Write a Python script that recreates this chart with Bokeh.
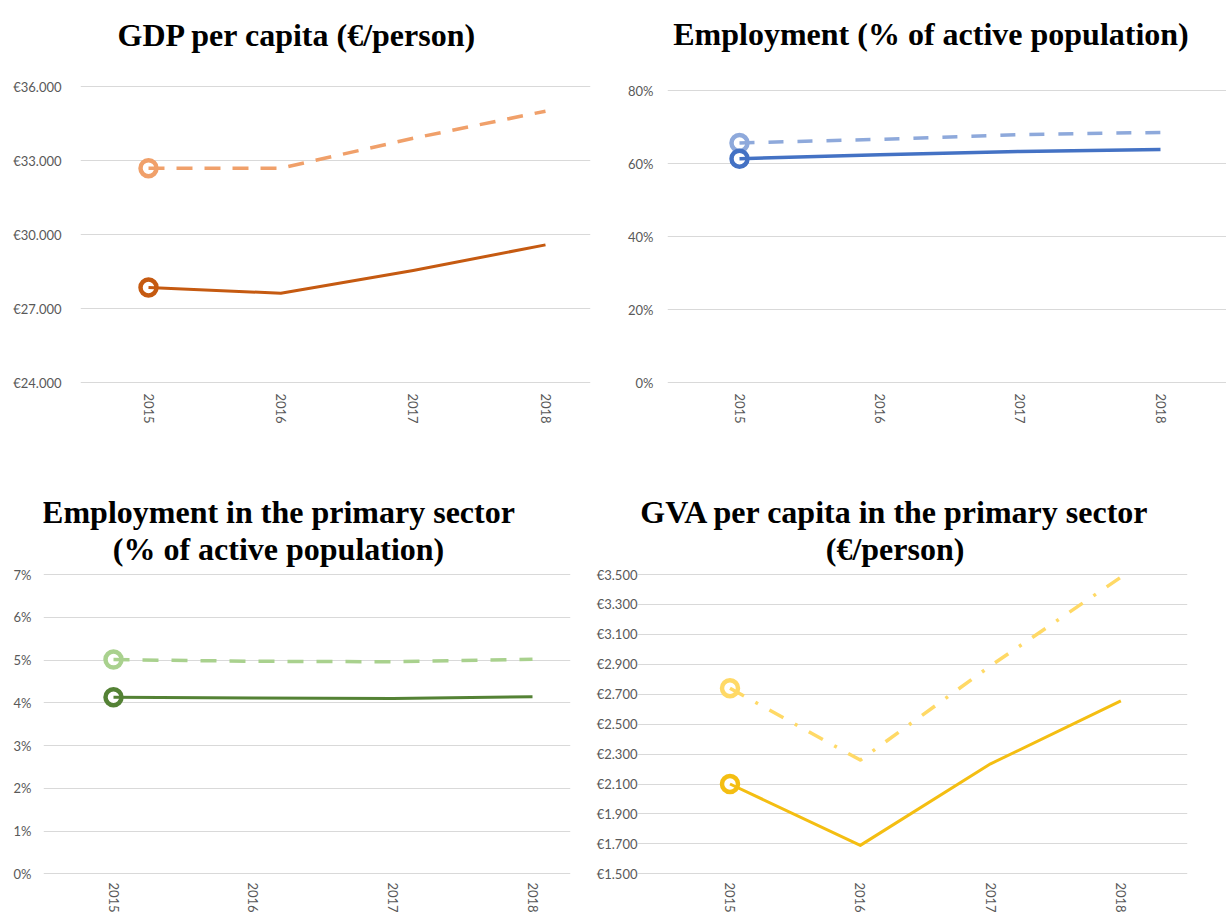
from bokeh.plotting import figure
from bokeh.models import Label, FixedTicker, Range1d
from bokeh.layouts import column, row
from bokeh.embed import file_html
from bokeh.resources import INLINE

# ---------------- data ----------------
years = [2015, 2016, 2017, 2018]
year_labels = ["2015", "2016", "2017", "2018"]

gdp_solid = [27850, 27620, 28540, 29580]
gdp_dashed = [32690, 32690, 33900, 35000]
gdp_ticks = [24000, 27000, 30000, 33000, 36000]
gdp_tick_labels = ["€24.000", "€27.000", "€30.000", "€33.000", "€36.000"]

emp_solid = [61.4, 62.5, 63.4, 63.9]
emp_dashed = [65.7, 66.7, 68.0, 68.6]
emp_ticks = [0, 20, 40, 60, 80]
emp_tick_labels = ["0%", "20%", "40%", "60%", "80%"]

prim_solid = [4.13, 4.11, 4.10, 4.14]
prim_dashed = [5.01, 4.97, 4.96, 5.02]
prim_ticks = [0, 1, 2, 3, 4, 5, 6, 7]
prim_tick_labels = ["0%", "1%", "2%", "3%", "4%", "5%", "6%", "7%"]

gva_solid = [2100, 1690, 2235, 2655]
gva_dashed = [2740, 2260, 2890, 3482]
gva_ticks = [1500, 1700, 1900, 2100, 2300, 2500, 2700, 2900, 3100, 3300, 3500]
gva_tick_labels = ["€1.500", "€1.700", "€1.900", "€2.100", "€2.300", "€2.500",
                   "€2.700", "€2.900", "€3.100", "€3.300", "€3.500"]

TITLE_FONT = "Liberation Serif"
TICK_FONT = "Lato"


def lin(v0, p0, v1, p1):
    """Linear pixel -> value map through two (value, pixel) anchors."""
    k = (v1 - v0) / (p1 - p0)
    return lambda px: v0 + (px - p0) * k


def panel(width, height, left0, top0, fl, fr, fb, xmap, ymap,
          yticks, ylabels, ystand, xstand):
    # frame spans from the top of the figure down to fb (titles live inside it)
    p = figure(width=width, height=height, output_backend="svg",
               toolbar_location=None,
               x_range=Range1d(xmap(fl), xmap(fr)),
               y_range=Range1d(ymap(fb), ymap(top0)),
               min_border_left=fl - left0, min_border_right=left0 + width - fr,
               min_border_top=0, min_border_bottom=top0 + height - fb)
    p.outline_line_color = None
    p.background_fill_color = "white"
    p.border_fill_color = "white"
    p.xgrid.visible = False
    p.ygrid.grid_line_color = "#D9D9D9"
    p.ygrid.grid_line_width = 1
    p.ygrid.ticker = FixedTicker(ticks=yticks)
    p.yaxis.ticker = FixedTicker(ticks=yticks)
    p.yaxis.major_label_overrides = {t: l for t, l in zip(yticks, ylabels)}
    p.xaxis.ticker = FixedTicker(ticks=years)
    p.xaxis.major_label_overrides = {t: l for t, l in zip(years, year_labels)}
    p.xaxis.major_label_orientation = "vertical"
    for ax, st in ((p.xaxis, xstand), (p.yaxis, ystand)):
        ax.axis_line_color = None
        ax.major_tick_line_color = None
        ax.minor_tick_line_color = None
        ax.major_tick_out = 0
        ax.major_tick_in = 0
        ax.minor_tick_out = 0
        ax.minor_tick_in = 0
        ax.major_label_text_color = "#595959"
        ax.major_label_text_font = TICK_FONT
        ax.major_label_text_font_size = "13px"
        ax.major_label_standoff = st
    return p


def add_series(p, y, color, dash, lw=3):
    p.scatter([years[0]], [y[0]], size=16, fill_color="white",
              line_color=color, line_width=4.5)
    p.line(years, y, line_color=color, line_width=lw, line_dash=dash,
           line_join="round")


def add_title(p, text, x, y):
    p.add_layout(Label(x=x, y=y, text=text, text_align="center",
                       text_baseline="alphabetic",
                       text_font=TITLE_FONT, text_font_style="bold",
                       text_font_size="32px", text_color="black"))


# ---------------- panel 1 : GDP per capita ----------------
xm = lin(2015, 148, 2018, 545)
ym = lin(36000, 86, 24000, 382)
p1 = panel(598, 455, 0, 0, 80, 590, 384, xm, ym,
           gdp_ticks, gdp_tick_labels, 19, 9)
add_series(p1, gdp_dashed, "#F0A06A", "16 12", lw=3.5)
add_series(p1, gdp_solid, "#C55A11", "solid")
add_title(p1, "GDP per capita (€/person)", xm(297), ym(34))

# ---------------- panel 2 : Employment ----------------
xm = lin(2015, 739, 2018, 1160)
ym = lin(80, 92, 0, 389)
p2 = panel(628, 455, 598, 0, 667, 1226, 391, xm, ym,
           emp_ticks, emp_tick_labels, 14, 9)
add_series(p2, emp_dashed, "#8EA9DB", "15 14", lw=3.5)
add_series(p2, emp_solid, "#4472C4", "solid", lw=3.5)
add_title(p2, "Employment (% of active population)", xm(930.5), ym(34))

# ---------------- panel 3 : Employment primary sector ----------------
xm = lin(2015, 113, 2018, 532)
ym = lin(7, 574, 0, 873.3)
p3 = panel(593, 460, 0, 455, 43, 570, 875, xm, ym,
           prim_ticks, prim_tick_labels, 12, 7)
add_series(p3, prim_dashed, "#A9D18E", "16 13", lw=3.5)
add_series(p3, prim_solid, "#548235", "solid")
add_title(p3, "Employment in the primary sector", xm(278), ym(511))
add_title(p3, "(% of active population)", xm(278), ym(548))

# ---------------- panel 4 : GVA per capita primary sector ----------------
xm = lin(2015, 727, 2018, 1120)
ym = lin(3500, 574, 1500, 873.3)
p4 = panel(633, 460, 593, 455, 634, 1187, 875, xm, ym,
           gva_ticks, gva_tick_labels, 0, 7)
add_series(p4, gva_dashed, "#FFD966", "16 13 3 13", lw=3.5)
add_series(p4, gva_solid, "#F4BE12", "solid")
add_title(p4, "GVA per capita in the primary sector", xm(893), ym(511))
add_title(p4, "(€/person)", xm(893), ym(548))

layout = column(row(p1, p2), row(p3, p4))
open("out.html", "w").write(file_html(layout, INLINE))
